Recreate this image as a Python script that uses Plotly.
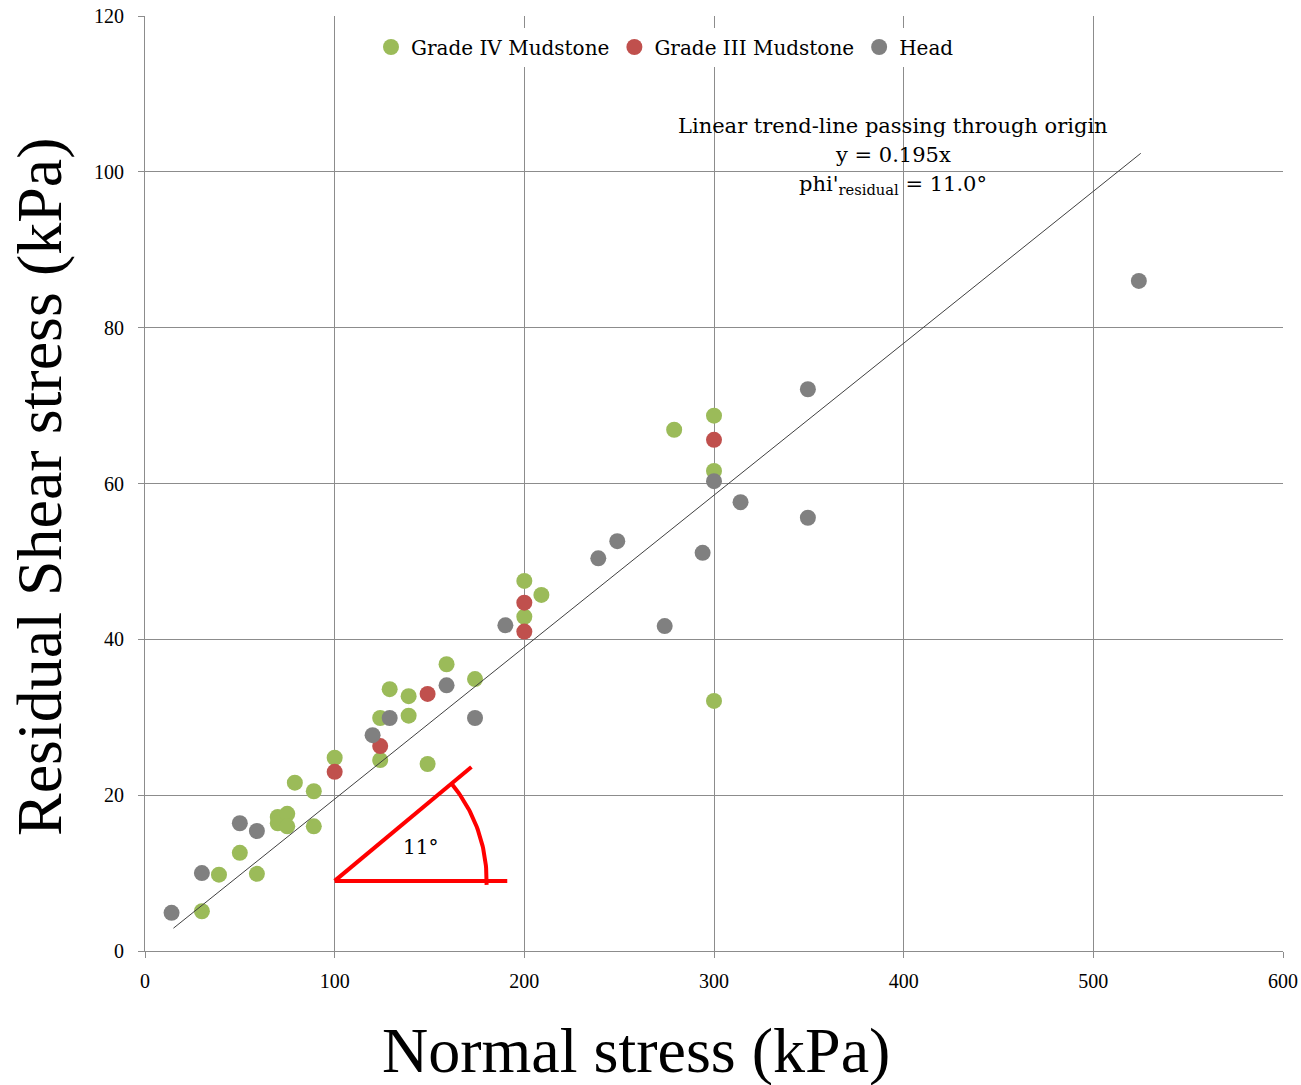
import numpy as np
import plotly.graph_objects as go

# ---- data ----
g4_x = [30, 39, 50, 59, 70, 70, 75, 75, 79, 89, 89, 100, 124, 124, 129, 139, 139, 149, 159, 174, 200, 200, 209, 279, 300, 300, 300]
g4_y = [5.1, 9.8, 12.6, 9.9, 17.2, 16.4, 17.6, 16.0, 21.6, 20.5, 16.0, 24.8, 24.5, 29.9, 33.6, 32.7, 30.2, 24.0, 36.8, 34.9, 47.5, 42.9, 45.7, 66.9, 68.7, 61.6, 32.1]

g3_x = [100, 124, 149, 200, 200, 300]
g3_y = [23.0, 26.3, 33.0, 44.7, 41.0, 65.6]

hd_x = [14, 30, 50, 59, 120, 129, 159, 174, 190, 239, 249, 274, 294, 300, 314, 349.5, 349.5, 524]
hd_y = [4.9, 10.0, 16.4, 15.4, 27.7, 29.9, 34.1, 29.9, 41.8, 50.4, 52.6, 41.7, 51.1, 60.3, 57.6, 72.1, 55.6, 86.0]

slope = 0.195
trend_x = [15, 525]

x_ticks = [0, 100, 200, 300, 400, 500, 600]
y_ticks = [0, 20, 40, 60, 80, 100, 120]

trend_lines = ["Linear trend-line passing through origin", "y = 0.195x",
               "phi'<sub>residual</sub> = 11.0°"]

# ---- layout geometry ----
W, H = 1301, 1085
ML, MR, MT, MB = 145, 18, 16, 134
XMAX, YMAX = 600, 120
PW, PH = W - ML - MR, H - MT - MB
px_x = PW / XMAX
px_y = PH / YMAX

FONT = "Liberation Serif, Times New Roman, serif"
FONT2 = "DejaVu Serif, serif"
GREEN, RED, GRAY = "#9BBB59", "#C0504D", "#808080"

fig = go.Figure()
fig.add_trace(go.Scatter(x=g4_x, y=g4_y, mode="markers", name="Grade IV Mudstone",
                         marker=dict(color=GREEN, size=16)))
fig.add_trace(go.Scatter(x=g3_x, y=g3_y, mode="markers", name="Grade III Mudstone",
                         marker=dict(color=RED, size=16)))
fig.add_trace(go.Scatter(x=hd_x, y=hd_y, mode="markers", name="Head",
                         marker=dict(color=GRAY, size=16)))
fig.add_trace(go.Scatter(x=trend_x, y=[slope * v for v in trend_x], mode="lines",
                         line=dict(color="#404040", width=1), showlegend=False, hoverinfo="skip"))

# ---- angle marker (red) ----
vx, vy = 100, 9.0
ang = np.deg2rad(39.8)
slant_len = 178  # px
sx = vx + slant_len * np.cos(ang) / px_x
sy = vy + slant_len * np.sin(ang) / px_y
fig.add_trace(go.Scatter(x=[vx, 191], y=[vy, vy], mode="lines", line=dict(color="red", width=4),
                         showlegend=False, hoverinfo="skip"))
fig.add_trace(go.Scatter(x=[vx, sx], y=[vy, sy], mode="lines", line=dict(color="red", width=4),
                         showlegend=False, hoverinfo="skip"))
t = np.linspace(np.deg2rad(-1.5), ang, 40)
R = 152
fig.add_trace(go.Scatter(x=vx + R * np.cos(t) / px_x, y=vy + R * np.sin(t) / px_y, mode="lines",
                         line=dict(color="red", width=4), showlegend=False, hoverinfo="skip"))
fig.add_annotation(x=145, y=13.4, text="11°", showarrow=False,
                   font=dict(family=FONT2, size=20, color="black"))

# ---- trend annotation (one line each) ----
for txt, ypx in zip(trend_lines, [126, 155, 185]):
    fig.add_annotation(x=(893 - ML) / PW, xref="paper", y=(951 - ypx) / px_y, yref="y",
                       yanchor="middle", xanchor="center", text=txt, showarrow=False,
                       font=dict(family=FONT2, size=21, color="black"))

# ---- axis titles ----
fig.add_annotation(x=(636 - ML) / PW, xref="paper", y=-(1050 - 951) / PH, yref="paper",
                   text="Normal stress (kPa)", showarrow=False, xanchor="center", yanchor="middle",
                   font=dict(family=FONT, size=64, color="black"))
fig.add_annotation(x=-(ML - 40) / PW, xref="paper", y=(951 - 487) / PH, yref="paper",
                   text="Residual Shear stress (kPa)", showarrow=False, textangle=-90,
                   xanchor="center", yanchor="middle",
                   font=dict(family=FONT, size=64, color="black"))

axis_common = dict(showgrid=True, gridcolor="#8c8c8c", gridwidth=1,
                   showline=True, linecolor="#8c8c8c", linewidth=1,
                   ticks="outside", ticklen=6, tickcolor="#8c8c8c",
                   tickfont=dict(family=FONT, size=20, color="black"),
                   zeroline=False, automargin=False)

fig.update_layout(
    width=W, height=H,
    margin=dict(l=ML, r=MR, t=MT, b=MB),
    plot_bgcolor="white", paper_bgcolor="white",
    xaxis=dict(range=[0, XMAX], tickvals=x_ticks, ticklabelstandoff=6, **axis_common),
    yaxis=dict(range=[0, YMAX], tickvals=y_ticks, ticklabelstandoff=10, **axis_common),
    legend=dict(orientation="h", x=(665 - ML) / PW, xanchor="center", y=(951 - 47) / PH, yanchor="middle",
                bgcolor="white", font=dict(family=FONT2, size=20, color="black"),
                itemwidth=30, tracegroupgap=0),
    showlegend=True,
)

fig.write_html("out.html")
